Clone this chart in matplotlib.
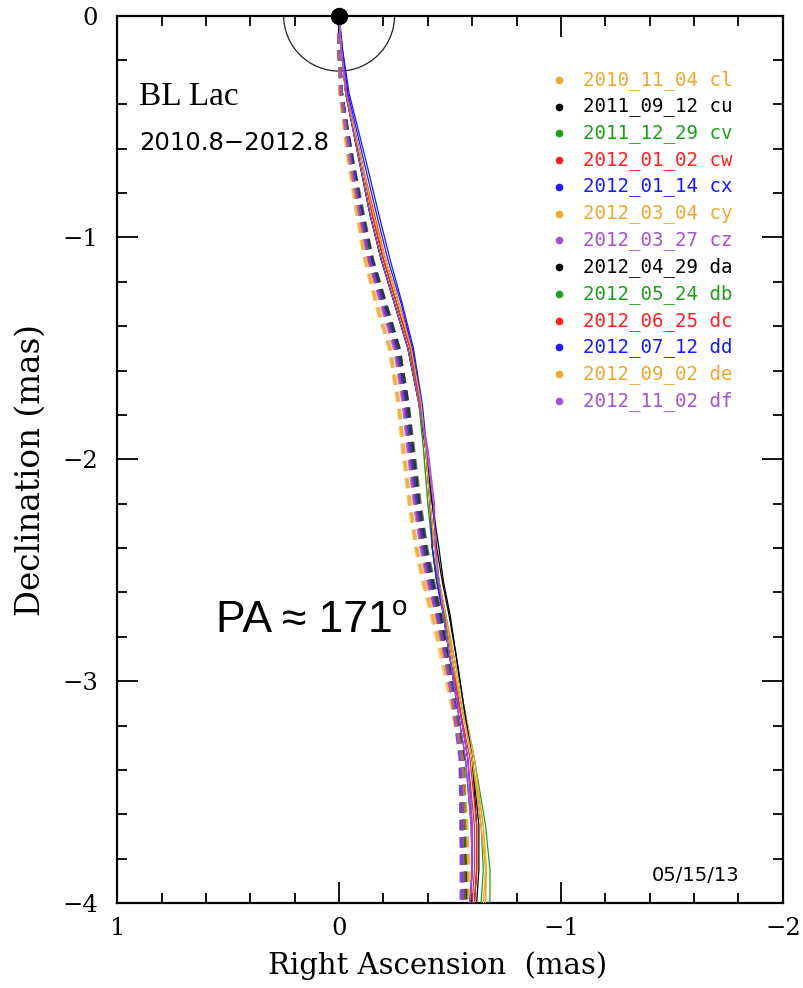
import matplotlib.pyplot as plt
from matplotlib.patches import Circle

# epochs and colour cycle
epochs = ["2010_11_04 cl", "2011_09_12 cu", "2011_12_29 cv", "2012_01_02 cw",
          "2012_01_14 cx", "2012_03_04 cy", "2012_03_27 cz", "2012_04_29 da",
          "2012_05_24 db", "2012_06_25 dc", "2012_07_12 dd", "2012_09_02 de",
          "2012_11_02 df"]
cols = ["#f0a830", "#000000", "#1ea01e", "#ff2020", "#1a1aff", "#f0a830", "#a552d2",
        "#000000", "#1ea01e", "#ff2020", "#1a1aff", "#f0a830", "#a552d2"]

# ridge lines (mas): RA offsets at fixed declinations
dec = [0.0, -0.15, -0.35, -0.65, -0.9, -1.1, -1.3, -1.5, -1.75, -1.95,
       -2.2, -2.4, -2.55, -2.7, -2.9, -3.1, -3.35, -3.65, -3.85, -4.0]
ra_solid = [
    [0, -0.01, -0.03, -0.10, -0.15, -0.21, -0.27, -0.33, -0.37, -0.39, -0.41, -0.43, -0.45, -0.48, -0.51, -0.55, -0.60, -0.65, -0.665, -0.66],
    [0, -0.01, -0.03, -0.09, -0.14, -0.19, -0.25, -0.31, -0.36, -0.39, -0.42, -0.44, -0.465, -0.495, -0.53, -0.56, -0.60, -0.62, -0.62, -0.61],
    [0, -0.01, -0.03, -0.10, -0.15, -0.20, -0.26, -0.32, -0.365, -0.39, -0.41, -0.43, -0.45, -0.48, -0.52, -0.56, -0.61, -0.66, -0.68, -0.68],
    [0, -0.01, -0.035, -0.10, -0.16, -0.21, -0.27, -0.33, -0.37, -0.39, -0.41, -0.42, -0.44, -0.47, -0.50, -0.54, -0.58, -0.61, -0.61, -0.60],
    [0, -0.015, -0.045, -0.12, -0.18, -0.23, -0.285, -0.335, -0.375, -0.395, -0.41, -0.42, -0.44, -0.47, -0.50, -0.54, -0.58, -0.60, -0.60, -0.59],
    [0, -0.01, -0.03, -0.10, -0.15, -0.20, -0.26, -0.32, -0.36, -0.38, -0.40, -0.43, -0.45, -0.48, -0.52, -0.56, -0.61, -0.65, -0.66, -0.65],
    [0, -0.01, -0.03, -0.09, -0.14, -0.19, -0.25, -0.31, -0.36, -0.40, -0.43, -0.435, -0.45, -0.47, -0.50, -0.54, -0.58, -0.60, -0.60, -0.59],
    [0, -0.01, -0.03, -0.09, -0.14, -0.19, -0.25, -0.31, -0.36, -0.39, -0.42, -0.45, -0.47, -0.50, -0.53, -0.56, -0.60, -0.63, -0.63, -0.62],
    [0, -0.01, -0.03, -0.10, -0.15, -0.20, -0.26, -0.32, -0.36, -0.38, -0.40, -0.42, -0.445, -0.475, -0.51, -0.55, -0.60, -0.64, -0.65, -0.64],
    [0, -0.01, -0.03, -0.10, -0.15, -0.20, -0.26, -0.32, -0.365, -0.39, -0.41, -0.43, -0.45, -0.48, -0.51, -0.54, -0.59, -0.62, -0.62, -0.61],
    [0, -0.015, -0.04, -0.11, -0.17, -0.22, -0.28, -0.33, -0.37, -0.39, -0.41, -0.42, -0.44, -0.47, -0.50, -0.53, -0.57, -0.595, -0.60, -0.59],
    [0, -0.01, -0.03, -0.10, -0.155, -0.21, -0.27, -0.325, -0.37, -0.39, -0.41, -0.43, -0.45, -0.48, -0.51, -0.55, -0.60, -0.64, -0.66, -0.66],
    [0, -0.01, -0.03, -0.09, -0.14, -0.19, -0.25, -0.31, -0.36, -0.395, -0.425, -0.435, -0.45, -0.47, -0.50, -0.53, -0.57, -0.595, -0.60, -0.59],
]
ra_dash = [
    [0, 0, -0.005, -0.045, -0.085, -0.12, -0.17, -0.23, -0.27, -0.29, -0.32, -0.35, -0.38, -0.42, -0.47, -0.51, -0.555, -0.575, -0.58, -0.58],
    [0, 0, -0.01, -0.06, -0.11, -0.15, -0.21, -0.27, -0.31, -0.33, -0.36, -0.39, -0.42, -0.455, -0.49, -0.525, -0.56, -0.565, -0.57, -0.57],
    [0, 0, -0.01, -0.055, -0.10, -0.145, -0.205, -0.265, -0.305, -0.325, -0.355, -0.385, -0.415, -0.45, -0.49, -0.525, -0.56, -0.57, -0.57, -0.57],
    [0, 0, -0.005, -0.05, -0.095, -0.135, -0.195, -0.255, -0.295, -0.315, -0.345, -0.375, -0.405, -0.44, -0.48, -0.515, -0.55, -0.555, -0.56, -0.56],
    [0, 0, -0.01, -0.055, -0.10, -0.14, -0.20, -0.26, -0.30, -0.32, -0.35, -0.38, -0.41, -0.445, -0.485, -0.52, -0.55, -0.55, -0.555, -0.555],
    [0, 0, -0.005, -0.04, -0.08, -0.115, -0.165, -0.225, -0.265, -0.285, -0.315, -0.345, -0.375, -0.415, -0.46, -0.505, -0.55, -0.57, -0.585, -0.585],
    [0, 0, -0.01, -0.05, -0.095, -0.135, -0.19, -0.25, -0.29, -0.31, -0.34, -0.37, -0.40, -0.44, -0.48, -0.515, -0.55, -0.555, -0.56, -0.56],
    [0, 0, -0.01, -0.06, -0.105, -0.15, -0.21, -0.27, -0.31, -0.335, -0.365, -0.395, -0.425, -0.46, -0.495, -0.53, -0.56, -0.565, -0.57, -0.57],
    [0, 0, -0.01, -0.055, -0.10, -0.14, -0.20, -0.26, -0.30, -0.32, -0.35, -0.38, -0.41, -0.445, -0.485, -0.52, -0.555, -0.56, -0.565, -0.565],
    [0, 0, -0.01, -0.05, -0.095, -0.135, -0.195, -0.255, -0.295, -0.315, -0.345, -0.375, -0.405, -0.44, -0.48, -0.515, -0.55, -0.555, -0.56, -0.56],
    [0, 0, -0.01, -0.055, -0.10, -0.14, -0.20, -0.26, -0.30, -0.32, -0.35, -0.38, -0.41, -0.445, -0.48, -0.515, -0.545, -0.55, -0.55, -0.55],
    [0, 0, -0.005, -0.045, -0.085, -0.12, -0.17, -0.23, -0.27, -0.29, -0.32, -0.35, -0.385, -0.425, -0.47, -0.51, -0.555, -0.575, -0.585, -0.59],
    [0, 0, -0.01, -0.05, -0.095, -0.135, -0.19, -0.25, -0.29, -0.31, -0.34, -0.37, -0.40, -0.44, -0.48, -0.515, -0.55, -0.555, -0.555, -0.555],
]

fig = plt.figure(figsize=(8.04, 9.88), dpi=100)
ax = fig.add_axes([0.1455, 0.086, 0.8285, 0.8982])

for i in range(len(epochs)):
    ax.plot(ra_dash[i], dec, color=cols[i], lw=2.5, ls=(0, (3, 2)),
            alpha=0.55, zorder=2)
for i in range(len(epochs)):
    ax.plot(ra_solid[i], dec, color=cols[i], lw=0.9, zorder=3)

# beam / core marker
ax.add_patch(Circle((0, 0), 0.25, fill=False, ec='#222222', lw=0.9, zorder=1))
ax.plot([0], [0], 'o', color='k', ms=11.5, clip_on=False, zorder=5)

ax.set_xlim(1, -2)
ax.set_ylim(-4, 0)
ax.set_aspect('equal')

ax.set_xticks([1, 0, -1, -2])
ax.set_xticklabels(['1', '0', '\u22121', '\u22122'])
ax.set_yticks([0, -1, -2, -3, -4])
ax.set_yticklabels(['0', '\u22121', '\u22122', '\u22123', '\u22124'])
ax.set_xticks([x / 5.0 for x in range(-10, 5)], minor=True)
ax.set_yticks([y / 5.0 for y in range(-20, 1)], minor=True)
ax.tick_params(which='both', direction='in', top=True, right=True, width=1.3)
ax.tick_params(which='major', length=15, labelsize=17.5, pad=14)
ax.tick_params(axis='x', which='major', pad=10)
ax.tick_params(which='minor', length=7.5)
for lab in ax.get_xticklabels() + ax.get_yticklabels():
    lab.set_family('DejaVu Serif')
for sp in ax.spines.values():
    sp.set_linewidth(1.6)

ax.set_xlabel('Right Ascension  (mas)', family='DejaVu Serif', fontsize=21, labelpad=8)
ax.set_ylabel('Declination (mas)', family='DejaVu Serif', fontsize=23.5, labelpad=11)
ax.xaxis.label.set_x(0.482)
ax.yaxis.label.set_y(0.488)

ax.text(0.9, -0.365, 'BL Lac', family='Liberation Serif', fontsize=24, va='center')
ax.text(0.9, -0.573, '2010.8\u22122012.8', family='DejaVu Sans', fontsize=17.5, va='center')

# epoch key
for i in range(len(epochs)):
    yk = -0.29 - i * 0.1205
    ax.plot([-0.99], [yk], 'o', color=cols[i], ms=4.5)
    ax.text(-1.1, yk, epochs[i], color=cols[i], family='DejaVu Sans Mono',
            fontsize=13.8, va='center')

ax.text(-1.806, -3.874, '05/15/13', family='DejaVu Sans', fontsize=14, ha='right', va='center')

ax.text(0.555, -2.78, 'PA \u2248 171', family='Liberation Sans', fontsize=32, va='baseline')
ax.text(-0.24, -2.70, 'o', family='Liberation Sans', fontsize=20, va='baseline')

fig.savefig('out.png', dpi=100)
